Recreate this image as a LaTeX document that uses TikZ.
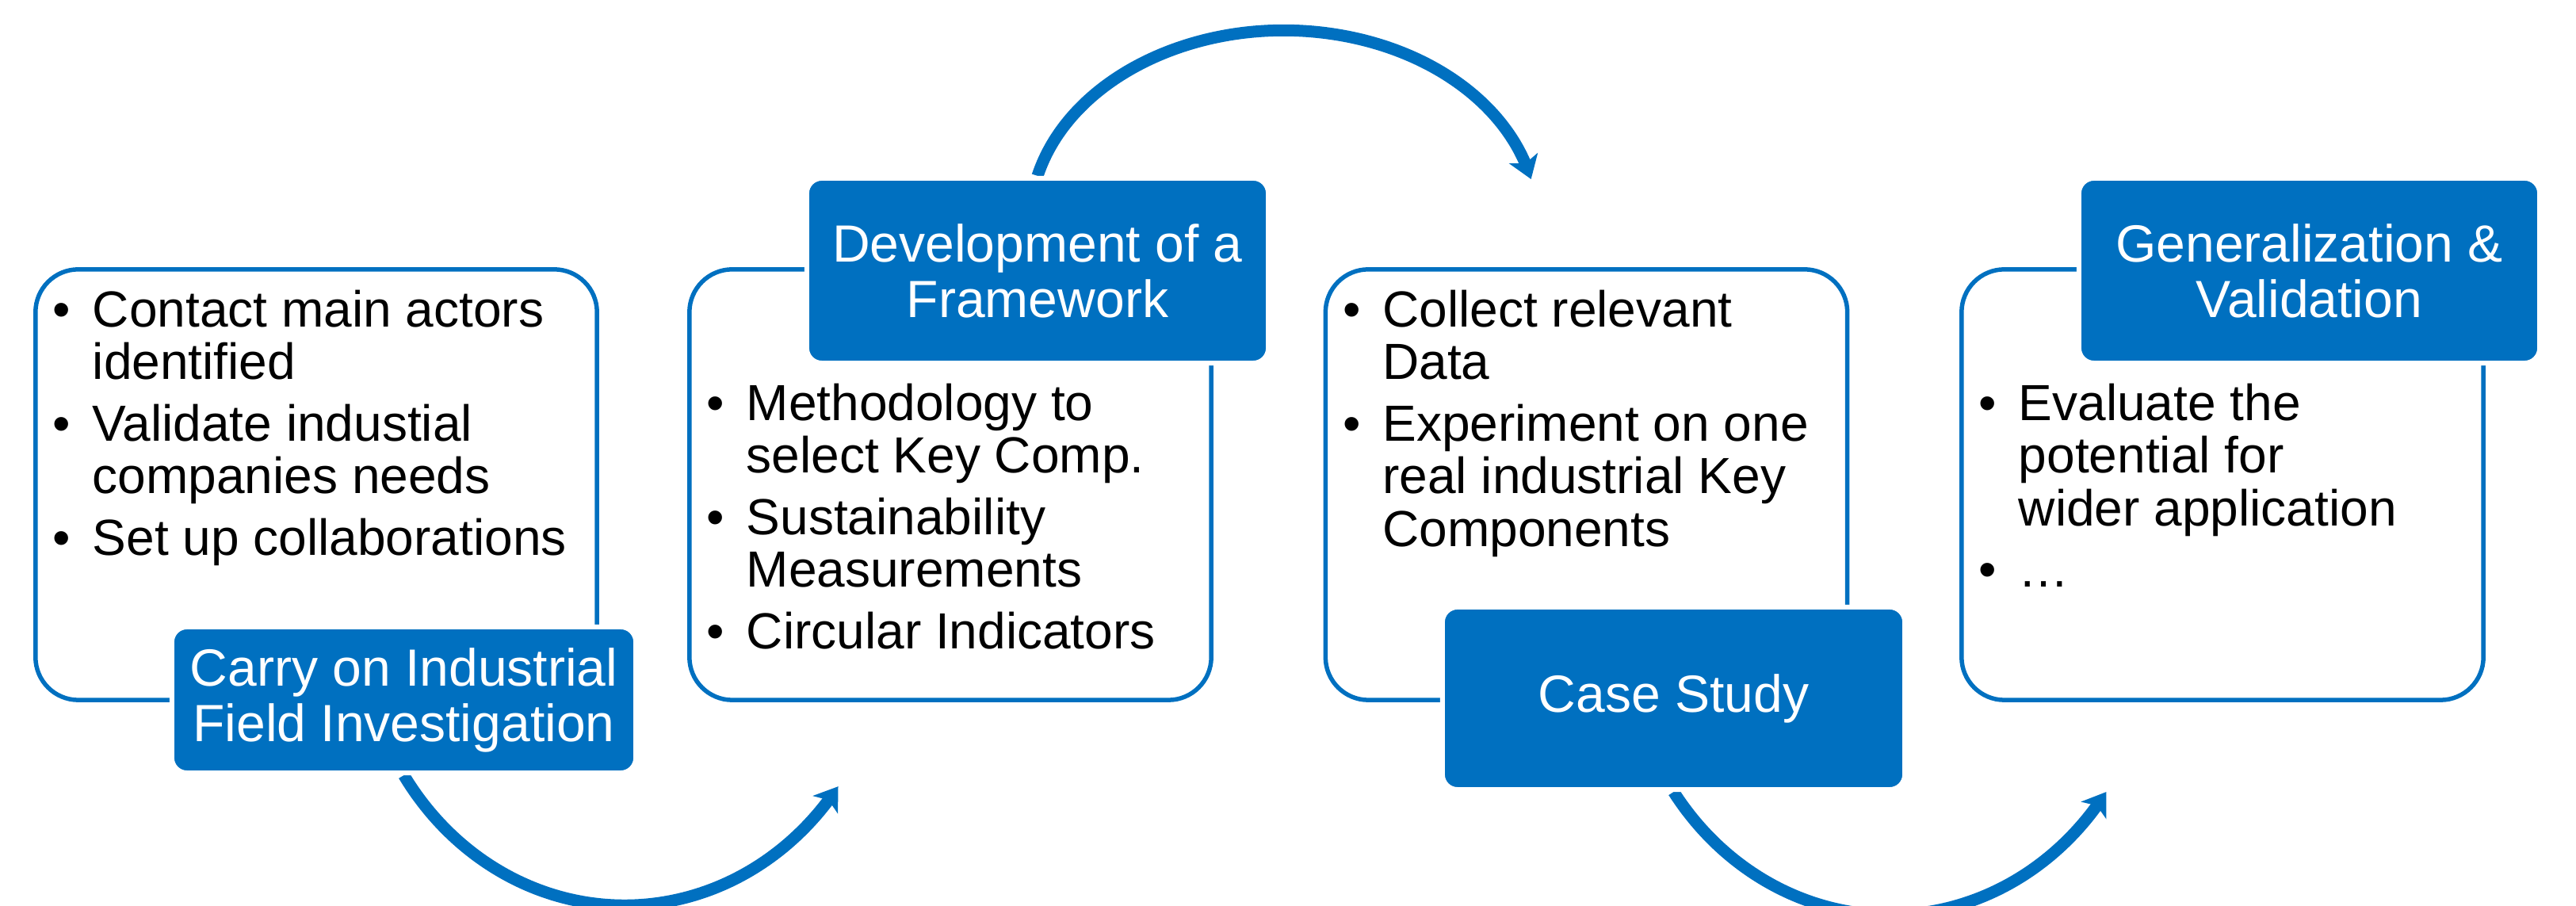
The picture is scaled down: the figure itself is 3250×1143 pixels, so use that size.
\documentclass[tikz,border=0pt]{standalone}
\usepackage{fontspec}
\setmainfont{Liberation Sans}
\usetikzlibrary{arrows.meta,bending}
\definecolor{pblue}{HTML}{0070C0}
\newcommand\bodyfont{\fontsize{18.21}{18.92}\selectfont}
\newcommand\stagefont{\fontsize{18.78}{19.92}\selectfont}
\newcommand\bul{\makebox[0.50cm][l]{\textbullet}}
\pgfdeclarelayer{bg}
\pgfsetlayers{bg,main}
\tikzset{
  bodybox/.style={draw=pblue, line width=0.055cm, rounded corners=0.54cm, minimum height=5.43cm, inner sep=0},
  stagebox/.style={fill=pblue, draw=white, line width=0.06cm, rounded corners=0.19cm, text=white, align=center, font=\stagefont, inner sep=0},
  bodytext/.style={anchor=base west, inner sep=0, font=\bodyfont},
  flowarrow/.style={draw=pblue, line width=0.15cm, -{Stealth[length=0.28cm,width=0.38cm,inset=0.07cm]}},
}
\begin{document}
\begin{tikzpicture}[x=0.01cm, y=0.01cm]
\useasboundingbox (0,0) rectangle (3250,1143);
% outline boxes
\node[bodybox, minimum width=7.08cm] (b1) at (399,531.5) {};
\node[bodybox, minimum width=6.58cm] (b2) at (1199,531.5) {};
\node[bodybox, minimum width=6.58cm] (b3) at (2001.5,531.5) {};
\node[bodybox, minimum width=6.58cm] (b4) at (2804,531.5) {};
% stage boxes
\node[stagebox, minimum width=5.85cm, minimum height=1.84cm] (s1) at (509.5,260) {Carry on Industrial\\Field Investigation};
\node[stagebox, minimum width=5.82cm, minimum height=2.33cm] (s2) at (1309,801.5) {Development of a\\Framework};
\node[stagebox, minimum width=5.83cm, minimum height=2.30cm] (s3) at (2111.5,262) {Case Study};
\node[stagebox, minimum width=5.81cm, minimum height=2.33cm] (s4) at (2913.5,801.5) {Generalization \&\\Validation};
% body texts
\node[bodytext] (t1) at ([xshift=0.24cm,yshift=-0.75cm]b1.north west) {\begin{tabular}[t]{@{}l@{}l@{}}
\bul & Contact main actors\\
 & identified\\[3.13pt]
\bul & Validate industial\\
 & companies needs\\[3.13pt]
\bul & Set up collaborations
\end{tabular}};
\node[bodytext] (t2) at ([xshift=0.24cm,yshift=-1.93cm]b2.north west) {\begin{tabular}[t]{@{}l@{}l@{}}
\bul & Methodology to\\
 & select Key Comp.\\[3.13pt]
\bul & Sustainability\\
 & Measurements\\[3.13pt]
\bul & Circular Indicators
\end{tabular}};
\node[bodytext] (t3) at ([xshift=0.24cm,yshift=-0.75cm]b3.north west) {\begin{tabular}[t]{@{}l@{}l@{}}
\bul & Collect relevant\\
 & Data\\[3.13pt]
\bul & Experiment on one\\
 & real industrial Key\\
 & Components
\end{tabular}};
\node[bodytext] (t4) at ([xshift=0.24cm,yshift=-1.93cm]b4.north west) {\begin{tabular}[t]{@{}l@{}l@{}}
\bul & Evaluate the\\
 & potential for\\
 & wider application\\[3.13pt]
\bul & …
\end{tabular}};
% arrows
\begin{pgfonlayer}{bg}
\draw[flowarrow] (s1.south) arc[start angle=213.3, end angle=324, x radius=3.33cm, y radius=3.64cm];
\draw[flowarrow] (s2.north) arc[start angle=166, end angle=13, x radius=3.20cm, y radius=2.42cm];
\draw[flowarrow] (s3.south) arc[start angle=215, end angle=325, x radius=3.33cm, y radius=3.64cm];
\end{pgfonlayer}
\end{tikzpicture}
\end{document}
